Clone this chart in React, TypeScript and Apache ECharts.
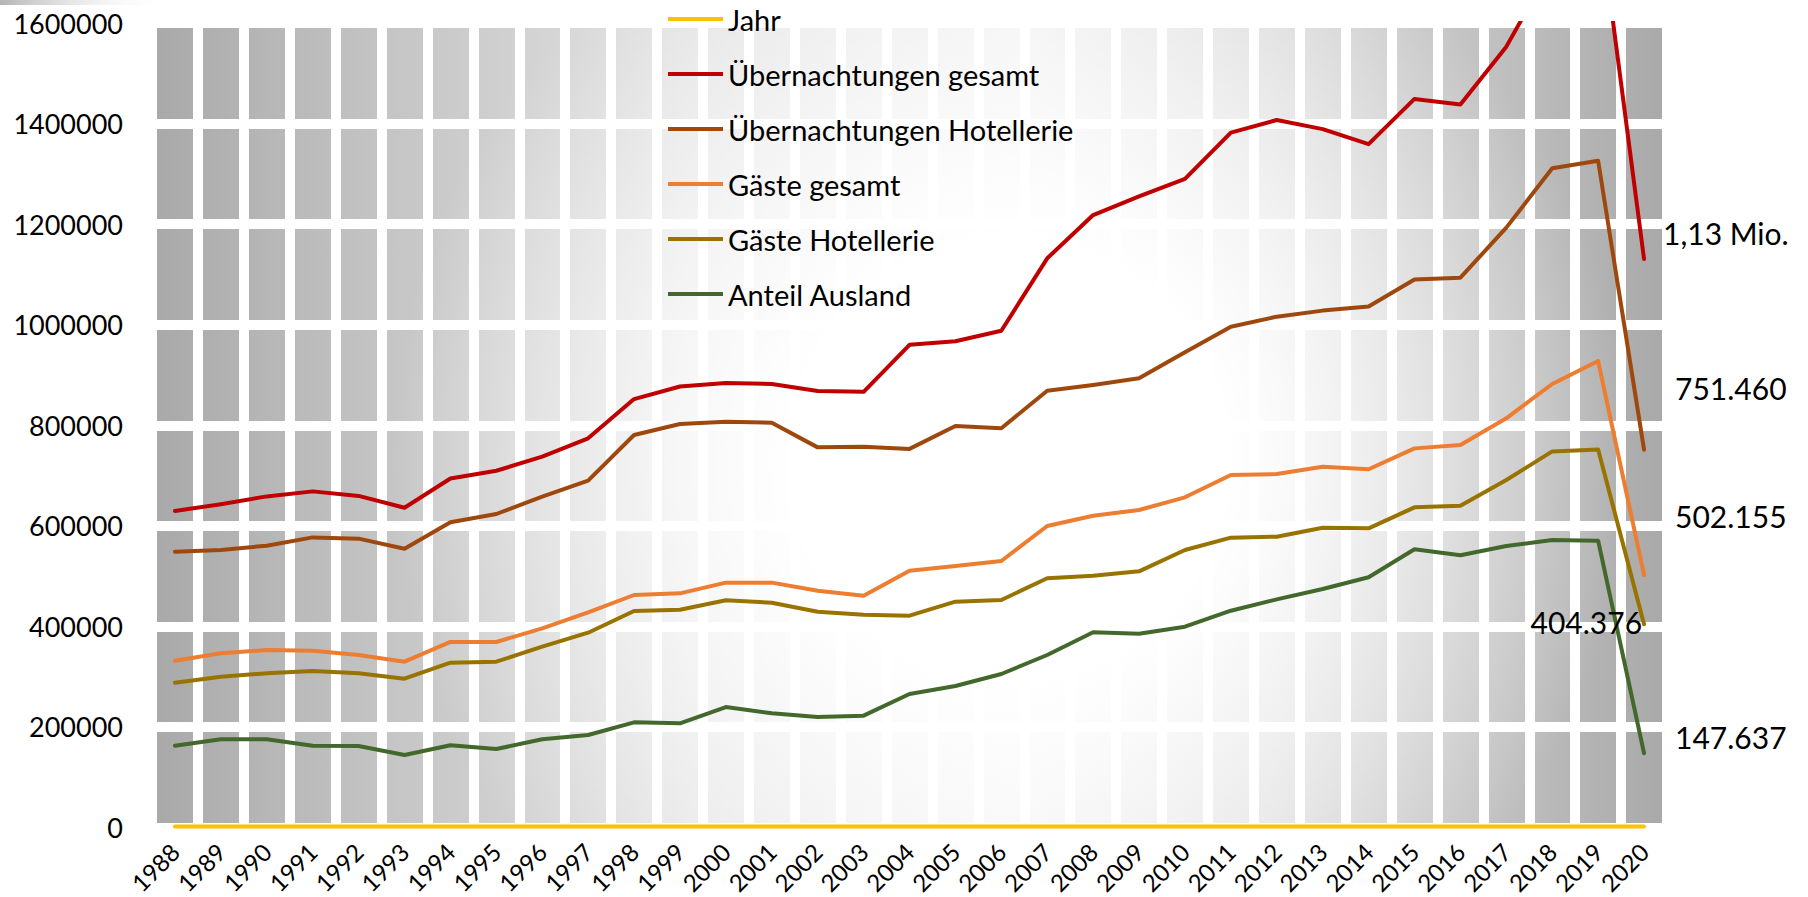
import React, { useEffect, useRef } from 'react';
import * as echarts from 'echarts';

const years = ['1988', '1989', '1990', '1991', '1992', '1993', '1994', '1995', '1996', '1997', '1998', '1999', '2000', '2001', '2002', '2003', '2004', '2005', '2006', '2007', '2008', '2009', '2010', '2011', '2012', '2013', '2014', '2015', '2016', '2017', '2018', '2019', '2020'];

const jahr = [1988, 1989, 1990, 1991, 1992, 1993, 1994, 1995, 1996, 1997, 1998, 1999, 2000, 2001, 2002, 2003, 2004, 2005, 2006, 2007, 2008, 2009, 2010, 2011, 2012, 2013, 2014, 2015, 2016, 2017, 2018, 2019, 2020];

const uebernachtungenGesamt = [629500, 643000, 658500, 668500, 659500, 636000, 694000, 709500, 737500, 774000, 852000, 877000, 884000, 882000, 868000, 866500, 960000, 967000, 988000, 1132000, 1218000, 1255000, 1290000, 1382000, 1407000, 1389000, 1359000, 1449000, 1438000, 1553000, 1715000, 1829000, 1130600];

const uebernachtungenHotellerie = [548600, 552000, 560500, 577000, 574500, 554500, 607000, 623500, 658000, 690000, 780600, 802500, 807000, 805000, 756000, 757400, 753000, 798500, 794000, 868700, 880000, 893300, 945000, 996000, 1016000, 1028000, 1036000, 1090000, 1093500, 1193000, 1311000, 1326000, 751460];

const gaesteGesamt = [331800, 346400, 353000, 351700, 343100, 329800, 369000, 369000, 396000, 428000, 462400, 465700, 487000, 487000, 471000, 461000, 510700, 520000, 530000, 599600, 620000, 631400, 656700, 701000, 703000, 717600, 712400, 754000, 760700, 813800, 882000, 927800, 502155];

const gaesteHotellerie = [288000, 300000, 306600, 311200, 306600, 296000, 327800, 329700, 359600, 387400, 430600, 433200, 451800, 447100, 429200, 423300, 421300, 449100, 452500, 495600, 500800, 509500, 551900, 576400, 578400, 596300, 595000, 636800, 640000, 691100, 748000, 752000, 404376];

const anteilAusland = [162700, 175400, 175400, 162700, 162000, 144200, 163500, 156100, 175400, 184000, 209200, 207200, 239600, 227100, 219800, 222400, 265500, 281400, 305300, 343100, 388200, 385400, 399300, 431200, 453800, 474300, 497600, 553300, 541300, 559800, 571800, 570400, 147637];

const yTicks = [0, 200000, 400000, 600000, 800000, 1000000, 1200000, 1400000, 1600000];

const FONT = 'Lato, "Noto Sans", "DejaVu Sans", sans-serif';

function fmtDe(v: number): string {
  return String(Math.round(v)).replace(/\B(?=(\d{3})+(?!\d))/g, '.');
}
function fmtMio(v: number): string {
  return (v / 1e6).toFixed(2).replace('.', ',') + ' Mio.';
}

export default function App() {
  const ref = useRef<HTMLDivElement>(null);

  useEffect(() => {
    document.body.style.margin = '0';
    const chart = echarts.init(ref.current as HTMLDivElement, null, { renderer: 'svg' });

    const GL = 152;
    const GT = 23;
    const GW = 1515;
    const GH = 804.5;

    const labelBase = { show: true, fontSize: 30, color: '#000', fontFamily: FONT };

    const mk = (
      name: string,
      values: number[],
      color: string,
      width: number,
      label: any
    ) => ({
      type: 'line',
      name,
      data: values.map((v, i) =>
        label && i === values.length - 1 ? { value: v, label: { ...labelBase, ...label } } : v
      ),
      showSymbol: true,
      symbol: 'circle',
      symbolSize: 0,
      lineStyle: { color, width, cap: 'round', join: 'round' },
      itemStyle: { color },
      label: { show: false },
      emphasis: { disabled: true },
      clip: true,
      z: 3,
    });

    const option: any = {
      animation: false,
      backgroundColor: '#ffffff',
      textStyle: { fontFamily: FONT },
      graphic: {
        elements: [
          {
            type: 'rect',
            z: -20,
            silent: true,
            shape: { x: GL + 4, y: GT + 4, width: GW - 8, height: GH - 8 },
            style: {
              fill: new echarts.graphic.LinearGradient(0, 0, 1, 0, [
                { offset: 0, color: '#a9a9a9' },
                { offset: 0.15, color: '#c4c4c4' },
                { offset: 0.35, color: '#e2e2e2' },
                { offset: 0.57, color: '#efefef' },
                { offset: 0.75, color: '#d8d8d8' },
                { offset: 0.9, color: '#bebebe' },
                { offset: 1, color: '#a9a9a9' },
              ]),
            },
          },
          {
            type: 'rect',
            z: -19,
            silent: true,
            shape: { x: GL + 4, y: GT + 4, width: GW - 8, height: GH - 8 },
            style: {
              fill: new echarts.graphic.RadialGradient(1010, 460, 620, [
                { offset: 0, color: 'rgba(255,255,255,1)' },
                { offset: 0.35, color: 'rgba(255,255,255,1)' },
                { offset: 1, color: 'rgba(255,255,255,0)' },
              ], true),
            },
          },
          {
            type: 'rect',
            z: -18,
            silent: true,
            shape: { x: 0, y: 0, width: 170, height: 5 },
            style: {
              fill: new echarts.graphic.LinearGradient(0, 0, 1, 0, [
                { offset: 0, color: 'rgba(130,130,130,0.6)' },
                { offset: 1, color: 'rgba(255,255,255,0)' },
              ]),
            },
          },
        ],
      },
      legend: {
        orient: 'vertical',
        left: 668,
        top: 2,
        padding: 0,
        icon: 'rect',
        itemWidth: 55,
        itemHeight: 4,
        itemGap: 21,
        selectedMode: false,
        textStyle: { fontSize: 29, lineHeight: 34, color: '#000', fontFamily: FONT },
        data: ['Jahr', 'Übernachtungen gesamt', 'Übernachtungen Hotellerie', 'Gäste gesamt', 'Gäste Hotellerie', 'Anteil Ausland'],
      },
      grid: {
        left: GL,
        top: GT,
        width: GW,
        height: GH,
        containLabel: false,
        outerBoundsMode: 'none',
      },
      xAxis: {
        type: 'category',
        data: years,
        boundaryGap: true,
        axisLine: { show: false },
        axisTick: { show: false },
        axisLabel: {
          interval: 0,
          rotate: 45,
          fontSize: 24,
          margin: 20,
          color: '#000',
          fontFamily: FONT,
        },
        splitLine: { show: true, interval: 0, lineStyle: { color: '#ffffff', width: 10 } },
      },
      yAxis: {
        type: 'value',
        min: yTicks[0],
        max: yTicks[yTicks.length - 1],
        interval: yTicks[1] - yTicks[0],
        axisLine: { show: false },
        axisTick: { show: false },
        axisLabel: {
          fontSize: 27,
          margin: 29,
          color: '#000',
          fontFamily: FONT,
          formatter: (v: number) => String(v),
        },
        splitLine: { show: true, lineStyle: { color: '#ffffff', width: 10 } },
      },
      series: [
        mk('Jahr', jahr, '#FFC000', 4, null),
        mk('Übernachtungen gesamt', uebernachtungenGesamt, '#C00000', 4, {
          position: 'right',
          offset: [14, -26],
          formatter: (p: any) => fmtMio(p.value),
        }),
        mk('Übernachtungen Hotellerie', uebernachtungenHotellerie, '#9E480E', 4, {
          position: 'right',
          offset: [26, -62],
          formatter: (p: any) => fmtDe(p.value),
        }),
        mk('Gäste gesamt', gaesteGesamt, '#ED7D31', 4, {
          position: 'right',
          offset: [26, -59],
          formatter: (p: any) => fmtDe(p.value),
        }),
        mk('Gäste Hotellerie', gaesteHotellerie, '#997300', 4, {
          position: 'left',
          offset: [3, -2],
          formatter: (p: any) => fmtDe(p.value),
        }),
        mk('Anteil Ausland', anteilAusland, '#43682B', 4, {
          position: 'right',
          offset: [26, -16],
          formatter: (p: any) => fmtDe(p.value),
        }),
      ],
    };

    chart.setOption(option);
    return () => {
      chart.dispose();
    };
  }, []);

  return <div ref={ref} style={{ width: 1808, height: 897 }} />;
}
